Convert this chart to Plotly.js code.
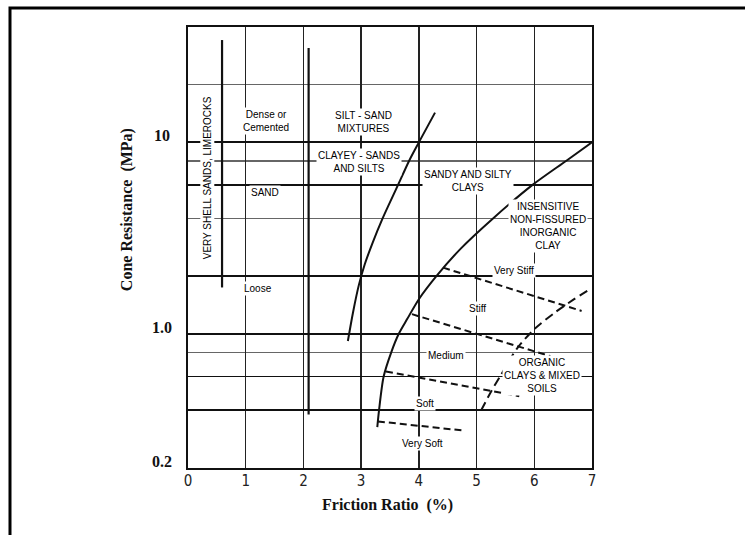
<!DOCTYPE html>
<html>
<head>
<meta charset="utf-8">
<script src="https://cdn.plot.ly/plotly-3.0.1.min.js"></script>
<style>
  html, body { margin: 0; padding: 0; background: #fff; }
  #chart { width: 745px; height: 535px; }
</style>
</head>
<body>
<div id="chart"></div>
<script>
// ---- Data ----
// Friction ratio (%) on x, cone resistance (MPa) on log y
const shellX = [0.59, 0.59];
const shellY = [1.75, 34.2];

const sandLimitX = [2.09, 2.09];
const sandLimitY = [0.38, 31.1];

const siltSandX = [2.77, 2.86, 2.96, 3.06, 3.20, 3.37, 3.64, 3.83, 4.00, 4.28];
const siltSandY = [0.92, 1.3, 1.8, 2.3, 3.0, 4.0, 6.0, 8.0, 10.0, 14.3];

const clayX = [3.28, 3.31, 3.39, 3.52, 3.65, 3.80, 4.0, 4.30, 4.73, 5.28, 5.97, 6.55, 7.0];
const clayY = [0.327, 0.4, 0.6, 0.8, 1.0, 1.2, 1.52, 2.0, 2.8, 4.0, 6.0, 8.0, 10.0];

const veryStiffX = [4.42, 6.82];
const veryStiffY = [2.22, 1.32];
const stiffX = [3.88, 6.28];
const stiffY = [1.27, 0.766];
const mediumX = [3.43, 5.74];
const mediumY = [0.637, 0.474];
const softX = [3.29, 4.76];
const softY = [0.35, 0.314];

const organicX = [5.08, 5.25, 5.42, 5.70, 6.0, 6.35, 6.69, 6.93];
const organicY = [0.40, 0.50, 0.61, 0.84, 1.06, 1.29, 1.52, 1.69];

const xTicks = [0, 1, 2, 3, 4, 5, 6, 7];
const xTickText = ['0', '1', '2', '3', '4', '5', '6', '7'];
const yMajorGrid = [0.4, 0.6, 1, 2, 6, 10];
const yMinorGrid = [0.8, 4, 8, 20];
const yLabelVals = [10, 1, 0.2];
const yLabelText = ['10', '1.0', '0.2'];

const zoneText = [
  'VERY SHELL SANDS, LIMEROCKS',
  'Dense or<br>Cemented',
  'SAND',
  'Loose',
  'SILT - SAND<br>MIXTURES',
  'CLAYEY - SANDS<br>AND SILTS',
  'SANDY AND SILTY<br>CLAYS',
  'INSENSITIVE<br>NON-FISSURED<br>INORGANIC<br>CLAY',
  'Very Stiff',
  'Stiff',
  'Medium',
  'ORGANIC<br>CLAYS &amp; MIXED<br>SOILS',
  'Soft',
  'Very Soft'
];
const zoneX = [0.33, 1.35, 1.33, 1.22, 3.04, 2.96, 4.86, 6.23, 5.64, 5.02, 4.47, 6.13, 4.10, 4.06];
const zoneY = [6.5, 13.0, 5.5, 1.72, 12.8, 7.9, 6.3, 3.67, 2.14, 1.36, 0.776, 0.607, 0.432, 0.268];
const zoneAngle = [-90, 0, 0, 0, 0, 0, 0, 0, 0, 0, 0, 0, 0, 0];

// ---- Build the figure ----
const smooth = { color: '#111', width: 2, shape: 'spline', smoothing: 0.8 };
const dashed = { color: '#111', width: 2, dash: '7px,4px' };

function tr(x, y, line) {
  return { x: x, y: y, type: 'scatter', mode: 'lines', line: line,
           hoverinfo: 'skip', showlegend: false };
}

const traces = [
  tr(shellX, shellY, { color: '#111', width: 2.2 }),
  tr(sandLimitX, sandLimitY, { color: '#111', width: 2.2 }),
  tr(siltSandX, siltSandY, smooth),
  tr(clayX, clayY, smooth),
  tr(veryStiffX, veryStiffY, dashed),
  tr(stiffX, stiffY, dashed),
  tr(mediumX, mediumY, dashed),
  tr(softX, softY, dashed),
  tr(organicX, organicY, { color: '#111', width: 2, dash: '9px,5px', shape: 'spline', smoothing: 0.8 })
];

const labelFont = { family: 'Liberation Sans, Arial, sans-serif', size: 10, color: '#000' };
const annotations = zoneText.map((t, i) => ({
  x: zoneX[i], y: Math.log10(zoneY[i]), xref: 'x', yref: 'y',
  xanchor: 'center', yanchor: 'middle',
  text: t, showarrow: false, textangle: zoneAngle[i],
  font: labelFont, bgcolor: '#ffffff', borderpad: 1, align: 'center'
}));

const serifBold = { family: 'Liberation Serif, Times New Roman, serif', size: 16, color: '#111', weight: 'bold' };

yLabelVals.forEach((v, i) => {
  annotations.push({
    x: -0.064, xref: 'paper', y: Math.log10(v), yref: 'y',
    xanchor: 'center', yanchor: 'middle',
    text: yLabelText[i], showarrow: false, yshift: 7,
    font: serifBold
  });
});

annotations.push({
  x: -0.151, xref: 'paper', y: 0.587, yref: 'paper',
  xanchor: 'center', yanchor: 'middle',
  text: 'Cone Resistance  (MPa)', textangle: -90, showarrow: false,
  font: serifBold
});
annotations.push({
  x: 0.495, xref: 'paper', y: -0.084, yref: 'paper',
  xanchor: 'center', yanchor: 'middle',
  text: 'Friction Ratio  (%)', showarrow: false,
  font: serifBold
});

const layout = {
  width: 745, height: 535,
  margin: { l: 188, r: 153, t: 27, b: 67, pad: 0 },
  paper_bgcolor: '#ffffff', plot_bgcolor: '#ffffff',
  showlegend: false,
  xaxis: {
    range: [0, 7], tickmode: 'array', tickvals: xTicks, ticktext: xTickText,
    showgrid: true, gridcolor: '#222', gridwidth: 1.5,
    showline: true, linecolor: '#111', linewidth: 2, mirror: true,
    ticks: '', zeroline: false, ticklabelstandoff: -2,
    tickfont: { family: 'Liberation Sans Narrow, DejaVu Sans Condensed, Arial, sans-serif', size: 15, color: '#222' }
  },
  yaxis: {
    type: 'log', range: [Math.log10(0.2), Math.log10(40)],
    tickmode: 'array', tickvals: yMajorGrid, showticklabels: false,
    showgrid: true, gridcolor: '#111', gridwidth: 1.8,
    minor: { tickmode: 'array', tickvals: yMinorGrid, showgrid: true, gridcolor: '#666', gridwidth: 1.2, ticks: '' },
    showline: true, linecolor: '#111', linewidth: 2, mirror: true,
    ticks: '', zeroline: false
  },
  annotations: annotations,
  shapes: [{
    type: 'rect', xref: 'paper', yref: 'paper',
    x0: -0.4406, x1: 1.42, y0: -0.2, y1: 1.043,
    line: { color: '#000', width: 3 }, fillcolor: 'rgba(0,0,0,0)'
  }]
};

Plotly.newPlot('chart', traces, layout, { displayModeBar: false, staticPlot: true });
</script>
</body>
</html>
